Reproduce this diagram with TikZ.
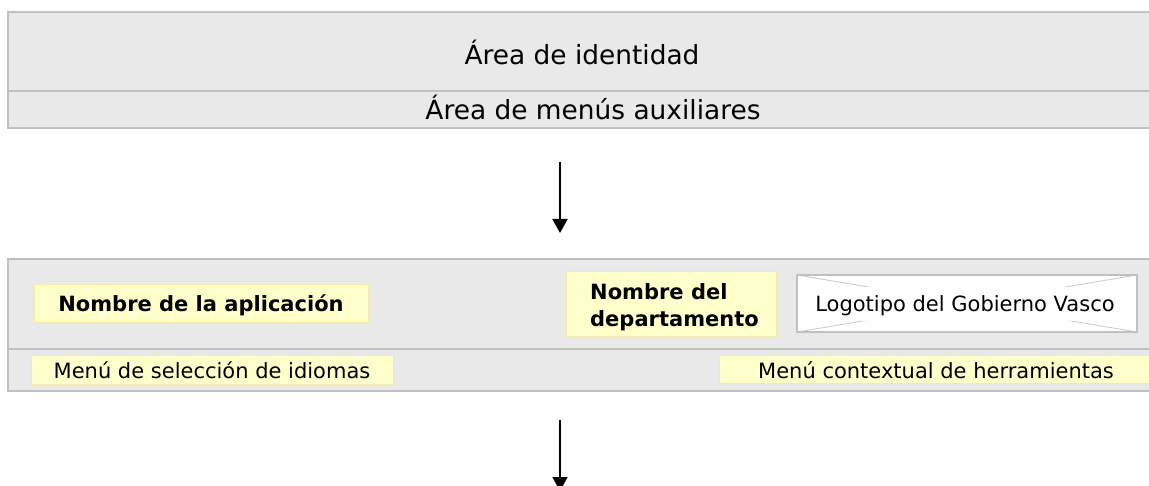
\documentclass[tikz,border=0pt]{standalone}
\usepackage{fontspec}
\setmainfont{DejaVu Sans}
\usetikzlibrary{arrows.meta}
\definecolor{panel}{HTML}{E9E9E9}
\definecolor{panelline}{HTML}{C0C0C0}
\definecolor{yfill}{HTML}{FFFFCC}
\definecolor{yline}{HTML}{F2EBA8}
\definecolor{diag}{HTML}{C8C8C8}
\begin{document}
\begin{tikzpicture}[x=1pt,y=-1pt,
  panelbox/.style={draw=panelline, fill=panel, line width=2pt, rectangle, inner sep=0pt, outer sep=0pt, anchor=north west},
  ybox/.style={draw=yline, fill=yfill, line width=0.8pt, rectangle, inner sep=0pt, outer sep=0pt, anchor=north west},
  logobox/.style={draw=panelline, fill=white, line width=2pt, rectangle, inner sep=0pt, outer sep=0pt, anchor=north west},
  lbl/.style={inner sep=0pt, anchor=base},
  big/.style={font=\fontsize{26.4pt}{32pt}\selectfont},
  norm/.style={font=\fontsize{21pt}{26.7pt}\selectfont},
  bnorm/.style={font=\fontsize{21pt}{26.7pt}\selectfont\bfseries},
  flow/.style={line width=2pt, -{Triangle[width=15pt,length=14pt]}}]
\useasboundingbox (0,0) rectangle (1149,486);
\fill[white] (0,0) rectangle (1149,486);
% top panel
\node[panelbox, minimum width=1160pt, minimum height=79.5pt] (idarea) at (8,12) {};
\node[panelbox, minimum width=1160pt, minimum height=36.5pt] (menuarea) at (8,91.5) {};
\node[lbl, big] (idtext) at (582,65) {Área de identidad};
\node[lbl, big] (menutext) at (593,120) {Área de menús auxiliares};
% arrow 1
\coordinate (a1s) at (560,162);
\coordinate (a1e) at (560,233);
\draw[flow] (a1s) -- (a1e);
% second panel
\node[panelbox, minimum width=1160pt, minimum height=90pt] (headarea) at (8,259) {};
\node[panelbox, minimum width=1160pt, minimum height=42pt] (toolarea) at (8,349) {};
% yellow boxes
\node[ybox, minimum width=334pt, minimum height=38pt] (app) at (34,284) {};
\node[lbl, bnorm] (apptext) at (201,311.7) {Nombre de la aplicación};
\node[ybox, minimum width=362pt, minimum height=28.3pt] (lang) at (31,355.7) {};
\node[lbl, norm] (langtext) at (212,378.3) {Menú de selección de idiomas};
\node[ybox, minimum width=210pt, minimum height=65.7pt] (dept) at (566,271) {};
\node[inner sep=0pt, anchor=base west, bnorm] (depttext) at (590,300) {\vtop{\hbox{Nombre del}\hbox{departamento}}};
\node[ybox, minimum width=440pt, minimum height=27.6pt] (tools) at (719,355.7) {};
\node[lbl, norm] (toolstext) at (936,378) {Menú contextual de herramientas};
% logo
\node[logobox, minimum width=340pt, minimum height=57pt] (logo) at (797,275) {};
\begin{scope}
  \clip (798,276) rectangle (1136,287) (798,321) rectangle (1136,331);
  \draw[diag, line width=0.8pt] (logo.north west) -- (logo.south east)
                                (logo.south west) -- (logo.north east);
\end{scope}
\node[lbl, norm] (logotext) at (965,311.7) {Logotipo del Gobierno Vasco};
% arrow 2
\coordinate (a2s) at (560,420);
\coordinate (a2e) at (560,491);
\draw[flow] (a2s) -- (a2e);
\end{tikzpicture}
\end{document}
